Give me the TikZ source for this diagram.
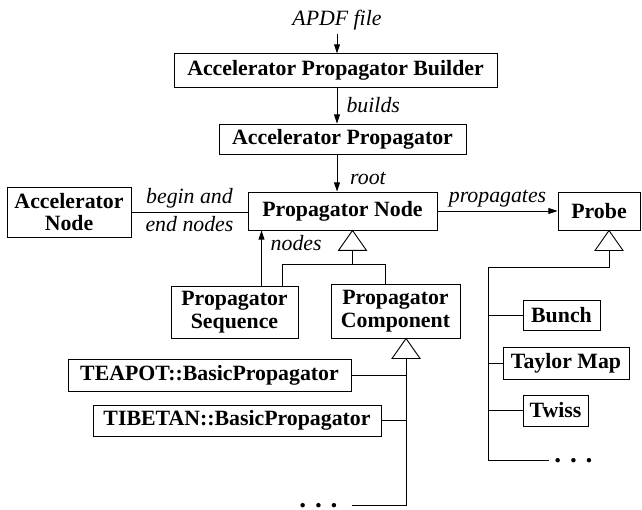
\documentclass[tikz,border=0pt]{standalone}
\usepackage{fontspec}
\setmainfont{Liberation Serif}
\usetikzlibrary{arrows.meta}

\newcommand{\gentri}[2]{%
    \draw (#1) -- ++(-14,20) -- ++(28,0) -- cycle;
    \path (#1) ++(0,20) coordinate (#2);}

\begin{document}
\begin{tikzpicture}[x=0.55pt, y=-0.55pt, line width=0.5pt,
    cls/.style={draw, font=\fontsize{12}{12.5}\selectfont\bfseries, align=center, inner sep=2pt},
    lbl/.style={font=\fontsize{12}{12.5}\selectfont\itshape, inner sep=2pt},
    more/.style={font=\fontsize{15}{15}\selectfont\bfseries, inner sep=0pt},
    arr/.style={-{Triangle[length=5pt, width=3.2pt]}}]
    \useasboundingbox (0,0) rectangle (642,510);

    \node[lbl] (apdf) at (337,20) {APDF file};
    \node[cls, minimum width=177.7pt, minimum height=18.2pt] (builder) at (335.5,70.5) {Accelerator Propagator Builder};
    \node[cls, minimum width=135.9pt, minimum height=17pt] (accprop) at (342.5,139.5) {Accelerator Propagator};
    \node[cls, minimum width=68.2pt, minimum height=27.5pt] (accnode) at (69,212) {Accelerator\\Node};
    \node[cls, minimum width=104pt, minimum height=20.9pt] (propnode) at (342.5,211) {Propagator Node};
    \node[cls, minimum width=45.1pt, minimum height=20.4pt] (probe) at (599,211.5) {Probe};
    \node[cls, minimum width=69.9pt, minimum height=28.6pt] (propseq) at (234.5,312) {Propagator\\Sequence};
    \node[cls, minimum width=71pt, minimum height=29.2pt] (propcomp) at (395.5,311.5) {Propagator\\Component};
    \node[cls, minimum width=155.7pt, minimum height=17.6pt] (teapot) at (209.5,375) {TEAPOT::BasicPropagator};
    \node[cls, minimum width=158.4pt, minimum height=17pt] (tibetan) at (237,420.5) {TIBETAN::BasicPropagator};
    \node[cls, minimum width=42.4pt, minimum height=17pt] (bunch) at (561.5,315.5) {Bunch};
    \node[cls, minimum width=69.3pt, minimum height=17.6pt] (taylor) at (566,363) {Taylor Map};
    \node[cls, minimum width=35.8pt, minimum height=17pt] (twiss) at (555.5,410.5) {Twiss};
    \node[more, anchor=base west] (compmore) at (299,507.5) {.\hspace{4.8pt}.\hspace{4.8pt}.};
    \node[more, anchor=base west] (probemore) at (554,462.5) {.\hspace{4.8pt}.\hspace{4.8pt}.};

    % associations
    \draw[arr] (apdf) -- (apdf |- builder.north);
    \draw[arr] (apdf |- builder.south) -- (apdf |- accprop.north)
        node[lbl, midway, right, xshift=3pt] {builds};
    \draw[arr] (apdf |- accprop.south) -- (apdf |- propnode.north)
        node[lbl, pos=0.65, right, xshift=5pt] {root};
    \draw (accnode.east) -- (accnode.east -| propnode.west)
        node[lbl, midway, above] {begin and}
        node[lbl, midway, below] {end nodes};
    \draw[arr] (propnode.east) -- (propnode.east -| probe.west)
        node[lbl, midway, above] {propagates};
    \coordinate (seqlink) at ([xshift=7.7pt]propnode.south west);
    \draw[arr] (seqlink |- propseq.north) -- (seqlink)
        node[lbl, pos=0.77, right, xshift=2.8pt] {nodes};

    % inheritance
    \coordinate (pntip) at ([xshift=5.5pt]propnode.south);
    \gentri{pntip}{pnbase}
    \path (pnbase) ++(0,14) coordinate (pnjoin);
    \draw (pnbase) -- (pnjoin);
    \draw ([xshift=26.4pt]propseq.north) |- (pnjoin) -| ([xshift=-5.8pt]propcomp.north);

    \coordinate (cttip) at ([xshift=5.8pt]propcomp.south);
    \gentri{cttip}{ctbase}
    \draw ([xshift=8pt]compmore.east) -| (ctbase);
    \draw (teapot.east) -- (teapot.east -| ctbase);
    \draw (tibetan.east) -- (tibetan.east -| ctbase);

    \coordinate (prtip) at ([xshift=5.5pt]probe.south);
    \gentri{prtip}{prbase}
    \path (prbase) ++(0,17) coordinate (prjoin);
    \coordinate (prtrunk) at (488,267);
    \draw (prbase) -- (prjoin) -| (prtrunk |- probemore.west) -- ([xshift=-3pt]probemore.west);
    \draw (prtrunk |- bunch.west) -- (bunch.west);
    \draw (prtrunk |- taylor.west) -- (taylor.west);
    \draw (prtrunk |- twiss.west) -- (twiss.west);
\end{tikzpicture}
\end{document}
